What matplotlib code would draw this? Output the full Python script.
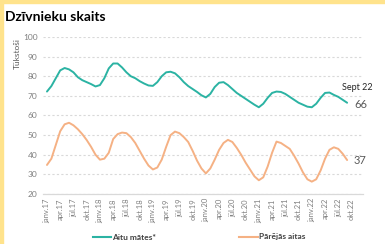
import numpy as np
import matplotlib
matplotlib.use('Agg')
import matplotlib.pyplot as plt
from matplotlib.patches import Rectangle
from matplotlib.lines import Line2D

plt.rcParams['font.family'] = ['Lato', 'DejaVu Sans']

# monthly values, janv.17 .. sept.22 (thousands)
ewes = [72.2, 75, 79, 83, 84.2, 83.5, 82, 79.5, 78, 77, 76, 74.8,
        75.5, 79, 84, 86.5, 86.5, 84.5, 82, 80, 79, 77.5, 76.3, 75.3,
        75.1, 77, 80, 82, 82.3, 81.5, 79.5, 77, 75, 73.5, 72, 70.3,
        69.2, 71, 74.5, 76.7, 77, 75.5, 73.5, 71.5, 70, 68.5, 67, 65.5,
        64.2, 66, 69, 71.5, 72.2, 72, 71, 69.5, 68, 66.5, 65.5, 64.5,
        64.2, 66, 69, 71.5, 71.7, 70.5, 69.5, 68, 66.5]
other = [34.8, 38, 45, 52, 55.5, 56.3, 55, 53, 50.5, 47.5, 44, 40,
         37.5, 38, 41, 48, 50.5, 51.3, 51, 49, 46, 42, 38, 34.5,
         32.5, 33.5, 37.5, 44, 50, 51.8, 51, 49, 46.5, 42, 37, 33,
         30.5, 33, 37.5, 42.5, 46, 47.6, 46.5, 43.5, 40, 36, 32.5, 29,
         27, 28.5, 34, 41, 46.7, 46, 44.5, 43, 39.5, 35.5, 31, 27.5,
         26.3, 27.5, 32, 38, 42.5, 43.8, 43, 40.5, 37.3]
tick_labels = []
for yr in range(17, 23):
    for mon in ['janv.', 'apr.', 'jūl.', 'okt.']:
        tick_labels.append(f'{mon}{yr}')
series_names = ['Aitu mātes*', 'Pārējās aitas']

teal = '#2BB3A3'
orange = '#F5B184'
grey = '#7F7F7F'

fig = plt.figure(figsize=(3.85, 2.44), dpi=100)
W, H = 385, 244

# yellow frame
fig.patches.append(Rectangle((0, 0), 3 / W, 1, transform=fig.transFigure,
                             color='#FFE38C', zorder=0))
fig.patches.append(Rectangle((0, 1 - 2.5 / H), 1, 2.5 / H, transform=fig.transFigure,
                             color='#FFE38C', zorder=0))

ax = fig.add_axes([43 / W, 1 - 194 / H, (363 - 43) / W, (194 - 37) / H])

months = np.arange(len(ewes))
ax.plot(months, ewes, color=teal, lw=1.4, solid_capstyle='round')
ax.plot(np.arange(len(other)), other, color=orange, lw=1.4, solid_capstyle='round')

ax.set_xlim(-0.9, 71.6)
ax.set_ylim(20, 100)
ax.set_yticks(range(20, 101, 10))
ax.set_xticks(np.arange(len(tick_labels)) * 3)
ax.set_xticklabels(tick_labels, rotation=90, fontsize=5.5, color=grey)
ax.tick_params(axis='y', labelsize=6, colors=grey, length=0, pad=4)
ax.tick_params(axis='x', length=0, pad=3)

ax.grid(axis='y', color='#D9D9D9', linestyle=(0, (2, 2)), lw=0.8)
ax.set_axisbelow(True)
for s in ['top', 'right', 'left']:
    ax.spines[s].set_visible(False)
ax.spines['bottom'].set_color('#D9D9D9')
ax.spines['bottom'].set_linewidth(0.9)

fig.text(17 / W, 1 - 54 / H, 'Tūkstoši', rotation=90, ha='center', va='center',
         fontsize=6, color='#595959')
fig.text(5 / W, 1 - 17 / H, 'Dzīvnieku skaits', ha='left', va='center',
         fontsize=10, fontweight='bold', color='black')

ax.annotate('Sept 22', (len(ewes) - 1, ewes[-1]), xytext=(-4, 9),
            textcoords='offset points', fontsize=6.5, color='#262626', ha='left')
ax.annotate(f'{ewes[-1]:.0f}', (len(ewes) - 1, ewes[-1]), xytext=(5, -1),
            textcoords='offset points', fontsize=8, color='#595959', va='center')
ax.annotate(f'{other[-1]:.0f}', (len(other) - 1, other[-1]), xytext=(5, 0),
            textcoords='offset points', fontsize=8, color='#595959', va='center')

# legend
handles = [Line2D([], [], color=teal, lw=1.5), Line2D([], [], color=orange, lw=1.5)]
fig.legend(handles, series_names, loc='center', bbox_to_anchor=(199 / W, 1 - 237 / H),
           ncol=2, frameon=False, handlelength=2.2, handletextpad=0.1,
           columnspacing=10, labelcolor='#404040', prop={'weight': 'bold', 'size': 6})

fig.savefig('out.png', dpi=100)
